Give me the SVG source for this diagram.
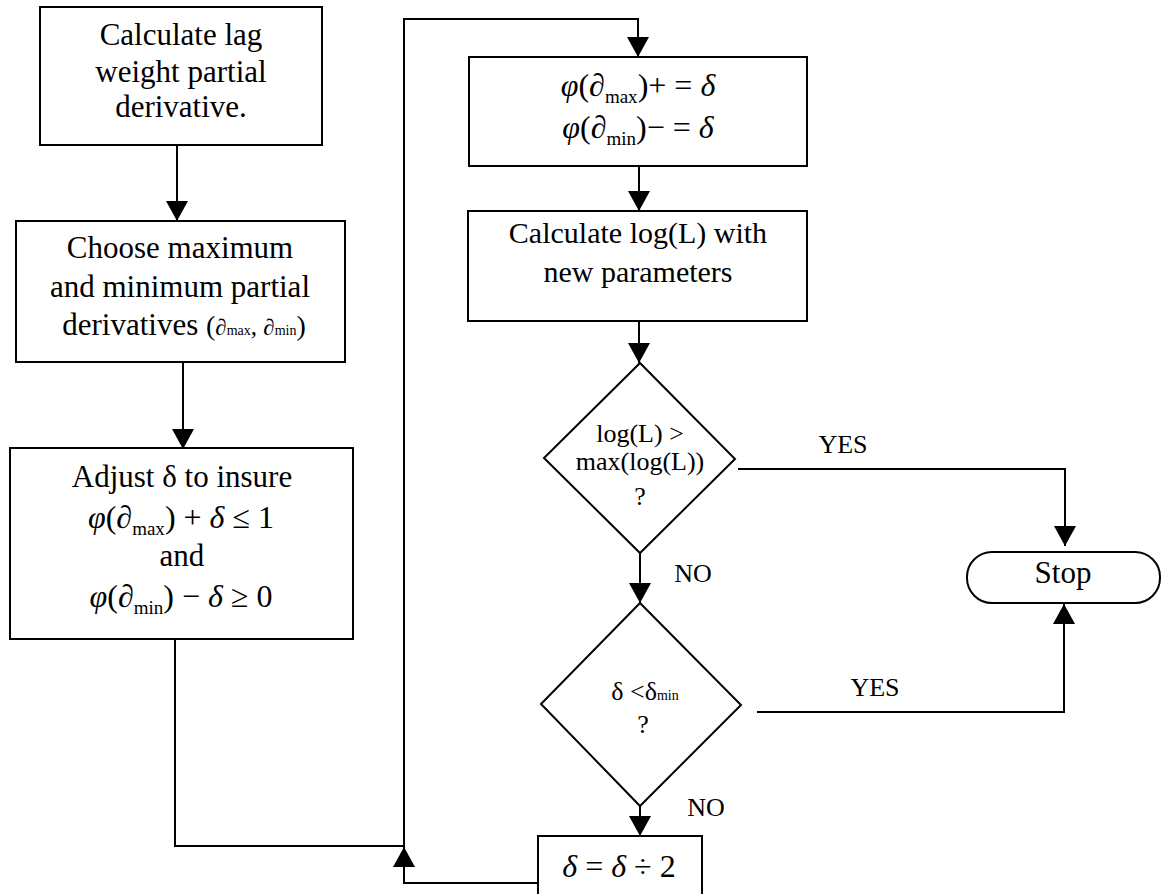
<svg xmlns="http://www.w3.org/2000/svg" width="1161" height="894" viewBox="0 0 1161 894">
  <style>
    .box { fill: #fff; stroke: #000; stroke-width: 2; }
    .wire { fill: none; stroke: #000; stroke-width: 2; }
    .arrow { marker-end: url(#head); }
    text { font-family: "Liberation Serif", "Times New Roman", serif; fill: #000; text-anchor: middle; }
    .t { font-size: 31px; }
    .t30 { font-size: 30px; }
    .m { font-size: 32px; }
    .lbl { font-size: 26px; }
    .dt { font-size: 26px; }
    .i { font-style: italic; }
    .sub { font-size: 19px; }
    .tiny { font-size: 14px; }
  </style>
  <defs>
    <marker id="head" markerUnits="userSpaceOnUse" markerWidth="20" markerHeight="22" viewBox="0 0 20 22" refX="20" refY="11" orient="auto">
      <path d="M0,0 L20,11 L0,22 Z" fill="#000"/>
    </marker>
  </defs>

  <rect width="1161" height="894" fill="#fff"/>

  <!-- connectors -->
  <g id="connectors">
    <path class="wire arrow" d="M177,145 V221"/>
    <path class="wire arrow" d="M183,362 V449"/>
    <path class="wire arrow" d="M175,639 V846 H404 V19 H638 V57"/>
    <path class="wire arrow" d="M538,883 H404 V847"/>
    <path class="wire arrow" d="M639,166 V211"/>
    <path class="wire arrow" d="M639,321 V363"/>
    <path class="wire arrow" d="M640,553 V603"/>
    <path class="wire arrow" d="M640,806 V836"/>
    <path class="wire arrow" d="M738,469 H1065 V546"/>
    <path class="wire arrow" d="M757,712 H1064 V604"/>
    <text class="lbl" x="843" y="453">YES</text>
    <text class="lbl" x="875" y="696">YES</text>
    <text class="lbl" x="693" y="582">NO</text>
    <text class="lbl" x="706" y="816">NO</text>
  </g>

  <!-- start: lag weight derivatives -->
  <g id="calc-partial">
    <rect class="box" x="40" y="7" width="282" height="138"/>
    <text class="t" x="181" y="45">Calculate lag</text>
    <text class="t" x="181" y="82">weight partial</text>
    <text class="t" x="181" y="117">derivative.</text>
  </g>

  <g id="choose-extremes">
    <rect class="box" x="16" y="221" width="329" height="141"/>
    <text class="t" x="180" y="258">Choose maximum</text>
    <text class="t" x="180" y="297">and minimum partial</text>
    <text class="t" x="184" y="335">derivatives <tspan font-size="28px">(</tspan><tspan class="i" font-size="23px">∂</tspan><tspan class="tiny">max</tspan><tspan font-size="25px">, </tspan><tspan class="i" font-size="23px">∂</tspan><tspan class="tiny">min</tspan><tspan font-size="28px">)</tspan></text>
  </g>

  <g id="adjust-delta">
    <rect class="box" x="10" y="448" width="343" height="191"/>
    <text class="t" x="182" y="487">Adjust δ to insure</text>
    <text class="m" x="181" y="528"><tspan class="i">φ</tspan>(<tspan class="i">∂</tspan><tspan class="sub" dy="7">max</tspan><tspan dy="-7">) + </tspan><tspan class="i">δ</tspan> ≤ 1</text>
    <text class="t" x="182" y="566">and</text>
    <text class="m" x="181" y="607"><tspan class="i">φ</tspan>(<tspan class="i">∂</tspan><tspan class="sub" dy="7">min</tspan><tspan dy="-7">) − </tspan><tspan class="i">δ</tspan> ≥ 0</text>
  </g>

  <!-- loop body -->
  <g id="update-weights">
    <rect class="box" x="469" y="57" width="338" height="109"/>
    <text class="m" x="638" y="96"><tspan class="i">φ</tspan>(<tspan class="i">∂</tspan><tspan class="sub" dy="7">max</tspan><tspan dy="-7">)+ = </tspan><tspan class="i">δ</tspan></text>
    <text class="m" x="638" y="138"><tspan class="i">φ</tspan>(<tspan class="i">∂</tspan><tspan class="sub" dy="7">min</tspan><tspan dy="-7">)− = </tspan><tspan class="i">δ</tspan></text>
  </g>

  <g id="calc-loglik">
    <rect class="box" x="468" y="211" width="339" height="110"/>
    <text class="t30" x="638" y="243">Calculate log(L) with</text>
    <text class="t30" x="638" y="282">new parameters</text>
  </g>

  <g id="test-improved">
    <polygon class="box" points="640,363 735,459 640,553 544,458"/>
    <text class="dt" x="640" y="442">log(L) &gt;</text>
    <text class="dt" x="640" y="470">max(log(L))</text>
    <text class="dt" x="640" y="505">?</text>
  </g>

  <g id="test-delta">
    <polygon class="box" points="640,603 741,705 640,806 541,704"/>
    <text class="dt" x="645" y="700">δ &lt;δ<tspan class="tiny">min</tspan></text>
    <text class="dt" x="643" y="733">?</text>
  </g>

  <g id="halve-delta">
    <rect class="box" x="538" y="836" width="164" height="62"/>
    <text class="m" x="619" y="877"><tspan class="i">δ</tspan> = <tspan class="i">δ</tspan> ÷ 2</text>
  </g>

  <g id="stop">
    <rect class="box" x="967" y="552" width="193" height="51" rx="25" ry="25"/>
    <text class="t" x="1063" y="583">Stop</text>
  </g>
</svg>
